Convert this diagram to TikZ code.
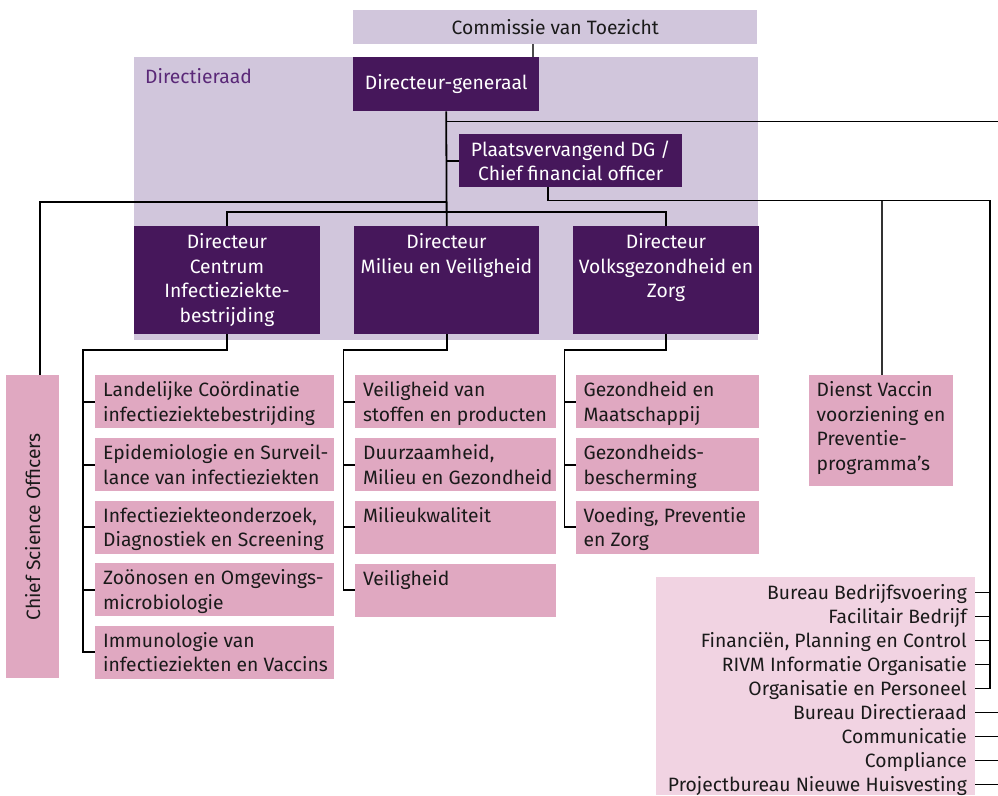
\documentclass[tikz,border=0pt]{standalone}
\usepackage{fontspec}
\setmainfont{Fira Sans}
\definecolor{dgpurple}{HTML}{46175B}
\definecolor{lavender}{HTML}{D1C6DC}
\definecolor{rose}{HTML}{E0A8C1}
\definecolor{blush}{HTML}{F1D3E2}
\definecolor{dirlabel}{HTML}{5A2878}
\definecolor{ink}{HTML}{1A1A1A}

% box with top-left aligned text
\newcommand\unitnode[6]{%
  \node[unitbox, minimum width=#4, minimum height=#5] (#1) at (#2,#3) {};
  \node[utext] (#1-t) at (#2+8,#3+6.5) {#6};}
% dark director box with centred text at the top
\newcommand\dirnode[6]{%
  \node[dark, minimum width=#4, minimum height=#5] (#1) at (#2,#3) {};
  \node[darktext] (#1-t) at (#2+#4/2,#3+7.5) {#6};}

\begin{document}
\begin{tikzpicture}[x=1pt,y=-1pt,
  every node/.style={font=\fontsize{19.3}{24.5}\selectfont, inner sep=0},
  lav/.style={fill=lavender, anchor=north west},
  dark/.style={fill=dgpurple, anchor=north west},
  darktext/.style={text=white, align=center, anchor=north},
  unitbox/.style={fill=rose, anchor=north west},
  utext/.style={text=ink, align=left, anchor=north west},
  stafftext/.style={text=ink, anchor=base east},
  wire/.style={draw=black, line width=1.8pt},
  greywire/.style={draw=black!80, line width=1.6pt},
  thinwire/.style={draw=black!70, line width=1.1pt},
]
\useasboundingbox (0,0) rectangle (998,795);

% supervisory board and board of directors
\node[lav, minimum width=404, minimum height=34] (cvt) at (353,10) {};
\node[text=ink] (cvt-t) at (cvt.center) {Commissie van Toezicht};
\node[lav, minimum width=624, minimum height=283] (drbg) at (134,57) {};
\node[text=dirlabel, anchor=west] (drlabel) at (145,76) {Directieraad};

\node[dark, minimum width=186, minimum height=54] (dg) at (353,57) {};
\node[text=white] (dg-t) at (dg.center) {Directeur-generaal};
\node[dark, minimum width=223, minimum height=53] (pv) at (459,134) {};
\node[text=white, align=center] (pv-t) at (pv.center) {Plaatsvervangend DG /\\Chief financial officer};

\dirnode{cen}{134}{226}{186}{108}{Directeur\\Centrum\\Infectieziekte-\\bestrijding}
\dirnode{mil}{354}{226}{185}{108}{Directeur\\Milieu en Veiligheid}
\dirnode{vol}{573}{226}{186}{108}{Directeur\\Volksgezondheid en\\Zorg}

% Chief Science Officers
\node[unitbox, minimum width=53, minimum height=303] (cso) at (6,375) {};
\node[text=ink, rotate=90] (cso-t) at (cso.center) {Chief Science Officers};

% centre for infectious disease control
\unitnode{c1}{95}{375}{239}{53}{Landelijke Coördinatie\\infectieziektebestrijding}
\unitnode{c2}{95}{438}{239}{53}{Epidemiologie en Surveil-\\lance van infectieziekten}
\unitnode{c3}{95}{500.5}{239}{53}{Infectieziekteonderzoek,\\Diagnostiek en Screening}
\unitnode{c4}{95}{563}{239}{53}{Zoönosen en Omgevings-\\microbiologie}
\unitnode{c5}{95}{625.5}{239}{53}{Immunologie van\\infectieziekten en Vaccins}

% environment and safety
\unitnode{m1}{355}{375}{201}{53}{Veiligheid van\\stoffen en producten}
\unitnode{m2}{355}{438}{201}{53}{Duurzaamheid,\\Milieu en Gezondheid}
\unitnode{m3}{355}{500.5}{201}{53}{Milieukwaliteit}
\unitnode{m4}{355}{563.5}{201}{53}{Veiligheid}

% public health and care
\unitnode{v1}{575.5}{375}{183}{53}{Gezondheid en\\Maatschappij}
\unitnode{v2}{575.5}{438}{183}{53}{Gezondheids-\\bescherming}
\unitnode{v3}{575.5}{500.5}{183}{53}{Voeding, Preventie\\en Zorg}

% vaccine supply service
\unitnode{dvp}{808.5}{375}{144}{111}{Dienst Vaccin\\voorziening en\\Preventie-\\programma's}

% staff departments
\node[fill=blush, anchor=north west, minimum width=319, minimum height=218] (staff) at (656,577) {};
\node[stafftext] (s1) at (967,599) {Bureau Bedrijfsvoering};
\node[stafftext] (s2) at (967,623) {Facilitair Bedrijf};
\node[stafftext] (s3) at (967,647) {Financiën, Planning en Control};
\node[stafftext] (s4) at (967,671) {RIVM Informatie Organisatie};
\node[stafftext] (s5) at (967,695) {Organisatie en Personeel};
\node[stafftext] (s6) at (967,719) {Bureau Directieraad};
\node[stafftext] (s7) at (967,743) {Communicatie};
\node[stafftext] (s8) at (967,767) {Compliance};
\node[stafftext] (s9) at (967,791) {Projectbureau Nieuwe Huisvesting};

% helper coordinates for the bus lines
\coordinate (cvtlink) at (533,0);
\coordinate (topbus) at (998,121.5);
\coordinate (csobus) at (40,202);
\coordinate (dirbus) at (0,212);
\coordinate (pvdrop) at (548,0);
\coordinate (pvbus) at (0,200.5);
\coordinate (railx) at (990,0);
\coordinate (dvpx) at (882,0);
\coordinate (cbus) at (83,350);
\coordinate (mbus) at (343.5,350);
\coordinate (vbus) at (564.5,350);
\foreach \i in {1,...,9} \coordinate (t\i) at (975,592.5+24*\i-24);

% supervision and top-level lines
\draw[thinwire] (cvt.south -| cvtlink) -- (dg.north -| cvtlink);
\draw[wire] (dg.south) -- (mil.north);
\draw[wire] (dg.south |- pv.west) -- (pv.west);
\draw[wire] (dg.south |- topbus) -- (topbus);
\draw[wire] (mil.north |- csobus) -- (csobus) -- (csobus |- cso.north);
\draw[wire] (cen.north) -- (cen.north |- dirbus) -- (vol.north |- dirbus) -- (vol.north);

% deputy DG to support services
\draw[wire] (pv.south -| pvdrop) -- (pvdrop |- pvbus) -- (railx |- pvbus) -- (railx |- t5);
\draw[greywire] (dvpx |- pvbus) -- (dvp.north -| dvpx);
\foreach \i in {1,...,5} \draw[wire] (t\i) -- (railx |- t\i);
\foreach \i in {6,...,9} \draw[wire] (t\i) -- ++(23,0);

% directorates to their departments
\draw[wire] (cen.south) |- (cbus) |- (c5.west);
\foreach \i in {1,...,4} \draw[wire] (cbus |- c\i.west) -- (c\i.west);
\draw[wire] (mil.south) |- (mbus) |- (m4.west);
\foreach \i in {1,...,3} \draw[wire] (mbus |- m\i.west) -- (m\i.west);
\draw[wire] (vol.south) |- (vbus) |- (v3.west);
\foreach \i in {1,2} \draw[wire] (vbus |- v\i.west) -- (v\i.west);
\end{tikzpicture}
\end{document}
